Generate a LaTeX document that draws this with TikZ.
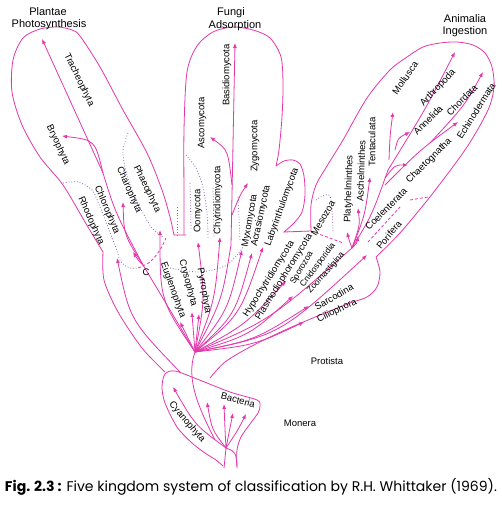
\documentclass[tikz,border=0pt]{standalone}
\usepackage{fontspec}
\setmainfont{Liberation Sans}
\newfontfamily\capfont{Poppins}
\usetikzlibrary{arrows.meta}
\definecolor{pk}{RGB}{228,55,172}
\definecolor{vio}{RGB}{140,100,200}
\begin{document}
\begin{tikzpicture}[x=1pt,y=-1pt,
  ln/.style={draw=pk, line width=0.8pt},
  arr/.style={ln, -{Latex[length=5pt,width=4pt]}},
  dot/.style={draw=vio, line width=0.8pt, dotted},
  dsh/.style={draw=pk, line width=0.8pt, dash pattern=on 3pt off 2pt},
  lbl/.style={font=\fontsize{9.5}{10}\selectfont, inner sep=0pt},
  sml/.style={font=\fontsize{8.6}{9}\selectfont, inner sep=0pt},
  ttl/.style={font=\fontsize{11}{12}\selectfont, inner sep=0pt, align=center}]
\useasboundingbox (0,0) rectangle (501,505);
\fill[white] (0,0) rectangle (501,505);

% ---------- hubs ----------
\coordinate (H) at (195,352);
\coordinate (M) at (226,448);
\coordinate (Cj) at (143,265);
\coordinate (Pj) at (103,173);
\coordinate (Fj) at (231,245);
\coordinate (A0) at (352,248);
\coordinate (B1) at (388,170);

% ---------- outlines ----------
\draw[ln] plot[smooth] coordinates {(103,252) (85,222) (63,185) (40,157) (22,125) (12,92) (13,60) (23,38) (40,29) (58,27) (72,30) (80,36) (100,67) (123,110) (147,153) (162,190) (170,217) (174,235)} -- (186,235);
\draw[ln] plot[smooth] coordinates {(184,235) (184,200) (184,130) (187,72) (197,46) (213,32) (233,27) (253,30) (270,38) (281,57) (283,85) (282,117) (279,150) (276,166)};
\draw[ln] plot[smooth] coordinates {(276,166) (284,161) (293,160) (300,164) (304,176) (305,195) (302,212) (294,223) (284,232)} -- (311,231);
\draw[ln] plot[smooth] coordinates {(311,231) (311,205) (316,185) (327,166) (343,140) (367,98) (390,70) (407,57) (423,47) (440,43) (457,42) (473,45) (485,53) (492,67) (494,87) (488,110) (467,147) (433,193) (400,233) (376,257)};
\draw[ln] plot[smooth] coordinates {(376,257) (380,272) (377,287) (367,297) (350,303) (320,315) (285,330) (250,347) (225,362) (210,378)};
\draw[ln] plot[smooth] coordinates {(103,252) (104,280) (118,312) (142,348) (165,372)};
\draw[ln] plot[smooth] coordinates {(223,466) (216,460) (205,453) (192,443) (177,427) (165,403) (162,387) (165,374) (175,371) (197,379) (230,392) (257,400) (260,406) (258,413) (250,424) (241,437) (237,450) (237,466)};

% ---------- dotted / dashed boundaries ----------
\draw[dot] plot[smooth] coordinates {(63,183) (78,182) (92,190) (100,207) (109,230) (116,248) (121,262) (130,268) (138,268)};
\draw[dsh] plot[smooth] coordinates {(138,268) (150,262) (160,250) (166,238)};
\draw[dot] plot[smooth] coordinates {(128,133) (123,150) (126,172) (134,195) (143,213) (152,228) (163,237)};
\draw[dot] plot[smooth] coordinates {(186,155) (196,168) (203,187) (207,213) (208,238)};
\draw[dot] (213,188) -- (214,238);
\draw[dot] (190,183) -- (191,230);
\draw[dot] (177,207) -- (177,237);
\draw[dot] plot[smooth] coordinates {(170,268) (200,272) (227,265) (243,247)};
\draw[dot] (238,197) -- (240,240);
\draw[dot] plot[smooth] coordinates {(316,200) (330,196) (333,232)};
\draw[dsh] (311,231) -- (343,243);
\draw[dsh] (368,242) -- (400,207);
\draw[dsh] (410,200) -- (428,197);

% ---------- Monera ----------
\draw[ln] (224,468) -- (M);
\draw[ln] (237,468) .. controls (236,452) .. (M);
\draw[arr] (M) .. controls (195,425) .. (173,387);
\draw[arr] (M) .. controls (212,430) .. (207,402);
\draw[arr] (M) .. controls (225,430) .. (224,404);
\draw[arr] (M) .. controls (229,432) .. (233,413);
\draw[arr] (M) .. controls (238,430) .. (246,414);
\draw[ln] (215,440) .. controls (200,410) and (185,380) .. (H);
\draw[arr] (180,372) .. controls (130,320) .. (117,258);

% ---------- Protista fan ----------
\draw[arr] (H) .. controls (188,338) .. (180,322);
\draw[arr] (H) .. controls (193,335) .. (192,312);
\draw[arr] (H) .. controls (197,335) .. (199,314);
\draw[arr] (H) .. controls (160,300) .. (160,230);
\draw[ln] (H) .. controls (170,310) .. (Cj);
\draw[arr] (H) .. controls (205,300) .. (198,242);
\draw[arr] (H) .. controls (215,300) .. (220,237);
\draw[ln] (H) .. controls (222,300) .. (Fj);
\draw[arr] (H) .. controls (228,310) .. (242,250);
\draw[arr] (H) .. controls (235,315) .. (252,253);
\draw[arr] (H) .. controls (240,315) .. (263,247);
\draw[arr] (H) .. controls (245,325) .. (286,281);
\draw[arr] (H) .. controls (250,335) .. (293,296);
\draw[arr] (H) .. controls (255,340) .. (309,306);
\draw[arr] (H) .. controls (255,345) .. (304,322);
\draw[ln] (H) .. controls (270,320) .. (A0);
\draw[arr] (H) .. controls (280,335) .. (367,255);

% ---------- Plantae ----------
\draw[arr] (Cj) .. controls (138,260) .. (133,252);
\draw[arr] (Cj) .. controls (124,235) .. (123,202);
\draw[ln] (Cj) .. controls (115,212) .. (Pj);
\draw[arr] (Pj) -- (42,39);
\draw[arr] (Pj) .. controls (95,140) .. (62,136);

% ---------- Fungi ----------
\draw[arr] (Fj) -- (235,43);
\draw[arr] (232,185) .. controls (228,150) .. (210,137);
\draw[arr] (232,215) .. controls (240,195) .. (248,183);

% ---------- Animalia ----------
\draw[arr] (A0) .. controls (349,240) .. (347,232);
\draw[arr] (A0) .. controls (357,243) .. (358,236);
\draw[arr] (A0) .. controls (360,225) .. (358,208);
\draw[arr] (A0) .. controls (365,215) .. (370,177);
\draw[ln] (A0) .. controls (372,215) .. (B1);
\draw[arr] (B1) .. controls (425,110) .. (455,52);
\draw[arr] (389,160) .. controls (390,135) .. (393,112);
\draw[arr] (395,150) .. controls (398,138) .. (410,132);
\draw[arr] (385,178) .. controls (395,165) .. (408,165);
\draw[arr] (385,185) .. controls (420,150) .. (458,122);
\draw[arr] (430,143) .. controls (465,105) .. (483,72);

% ---------- titles ----------
\node[ttl] (plantae) at (48,12) {Plantae};
\node[ttl] (photo) at (49,25) {Photosynthesis};
\node[ttl] (fungi) at (231,13) {Fungi};
\node[ttl] (adsorp) at (235,26) {Adsorption};
\node[ttl] (animalia) at (465,19) {Animalia};
\node[ttl] (ingest) at (465,32) {Ingestion};

% ---------- labels ----------
\node[lbl, rotate=-64] (trach) at (79,80) {Tracheophyta};
\node[lbl, rotate=-65] (bryo) at (58,145) {Bryophyta};
\node[lbl, rotate=-67] (chloro) at (107,210) {Chlorophyta};
\node[lbl, rotate=-66] (rhodo) at (91,221) {Rhodophyta};
\node[lbl, rotate=-66] (charo) at (129,190) {Charophyta};
\node[lbl, rotate=-64] (phaeo) at (147,189) {Phaeophyta};
\node[lbl] (clbl) at (146,272) {C};
\node[lbl, rotate=-70] (eugl) at (173,290) {Euglenophyta};
\node[lbl, rotate=-75] (crys) at (188,283) {Crysophyta};
\node[lbl, rotate=-80] (pyrr) at (204,291) {Pyrrophyta};

\node[lbl, rotate=90] (basid) at (227,75) {Basidiomycota};
\node[lbl, rotate=90] (asco) at (202,123) {Ascomycota};
\node[lbl, rotate=90] (zygo) at (255,146) {Zygomycota};
\node[lbl, rotate=90] (chytr) at (218,200) {Chytridiomycota};
\node[lbl, rotate=90] (oomy) at (198,211) {Oomycota};
\node[lbl, rotate=80] (myxo) at (250,221) {Myxomycota};
\node[lbl, rotate=78] (acras) at (261,216) {Acrasiomycota};
\node[lbl, rotate=70] (labyr) at (282,207) {Labyrinthulomycota};

\node[lbl, rotate=58] (hypo) at (269,279) {Hypochytridiomycota};
\node[lbl, rotate=58] (plasm) at (284,277) {Plasmodiophoromycota};
\node[sml, rotate=60] (sporo) at (302,268) {Sporozoa};
\node[sml, rotate=53] (cnido) at (318,265) {Cnidosporidia};
\node[sml, rotate=49] (zoom) at (326,273) {Zoomastigina};
\node[lbl, rotate=30] (sarco) at (334,297) {Sarcodina};
\node[lbl, rotate=26] (cilio) at (337,311) {Ciliophora};
\node[lbl, rotate=60] (meso) at (323,218) {Mesozoa};
\node[lbl] (protista) at (327,361) {Protista};
\node[lbl] (monera) at (300,423) {Monera};
\node[lbl, rotate=-15] (bact) at (238,400) {Bacteria};
\node[lbl, rotate=-50] (cyano) at (187,422) {Cyanophyta};

\node[lbl, rotate=55] (moll) at (405,78) {Mollusca};
\node[lbl, rotate=47] (arthro) at (438,88) {Arthropoda};
\node[lbl, rotate=45] (annel) at (428,120) {Annelida};
\node[lbl, rotate=45] (chord) at (462,100) {Chordata};
\node[lbl, rotate=58] (echino) at (476,111) {Echinodermata};
\node[lbl, rotate=45] (chaeto) at (429,161) {Chaetognatha};
\node[lbl, rotate=90] (tenta) at (372,142) {Tentaculata};
\node[lbl, rotate=88] (asch) at (361,171) {Aschelminthes};
\node[lbl, rotate=88] (platy) at (349,189) {Platyhelminthes};
\node[lbl, rotate=45] (coel) at (386,209) {Coelenterata};
\node[lbl, rotate=50] (porif) at (389,235) {Porifera};

% ---------- caption ----------
\node[inner sep=0pt] (cap) at (251,487) {\resizebox{492pt}{!}{\capfont\textbf{Fig. 2.3 :} Five kingdom system of classification by R.H. Whittaker (1969).}};
\end{tikzpicture}
\end{document}
